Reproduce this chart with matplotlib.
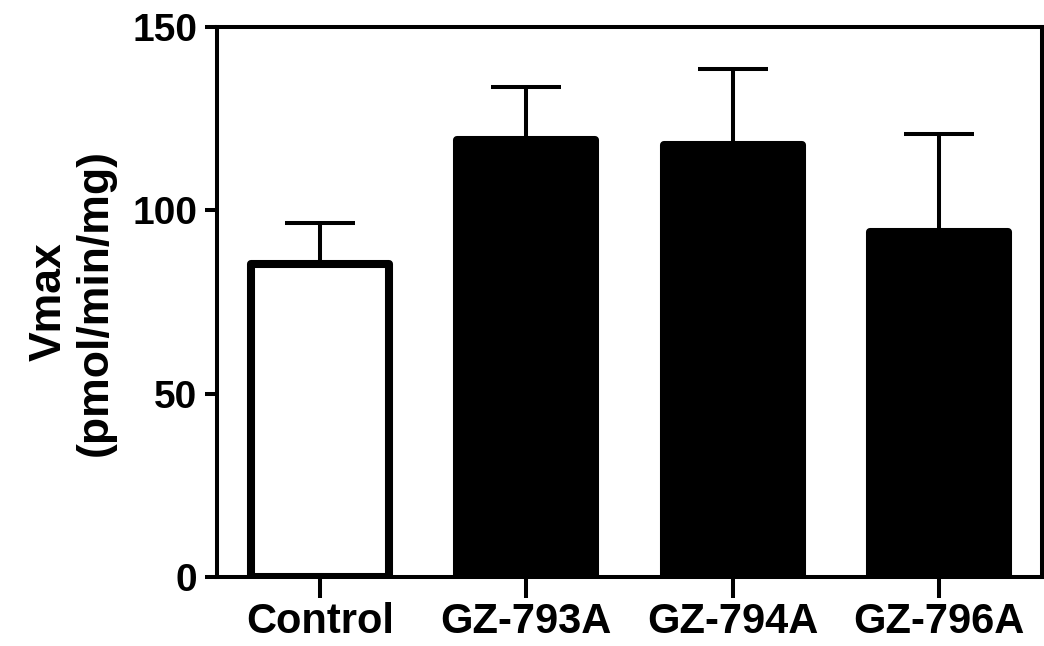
import matplotlib
matplotlib.use("Agg")
import matplotlib.pyplot as plt
import numpy as np

categories = ["Control", "GZ-793A", "GZ-794A", "GZ-796A"]
values = [85.5, 119.2, 117.9, 94.2]
errors = [11.0, 14.4, 20.6, 26.6]
fills = ["white", "black", "black", "black"]
yticks = [0, 50, 100, 150]

plt.rcParams['font.family'] = ['Liberation Sans', 'DejaVu Sans']
plt.rcParams['font.weight'] = 'bold'

fig = plt.figure(figsize=(10.44, 6.46), dpi=100)
ax = fig.add_axes([217/1044, 1-577/646, (1042-217)/1044, (577-27)/646])

x = np.arange(len(categories))
bars = ax.bar(x, values, width=0.67, color=fills, edgecolor="black",
              linewidth=5.8, zorder=3)
for b in bars:
    b.set_joinstyle("round")
ax.errorbar(x, values, yerr=[np.zeros(len(errors)), errors], fmt="none",
            ecolor="black", elinewidth=2.9, capsize=25, capthick=2.9, zorder=2)

ax.set_xlim(-0.5, 3.5)
ax.set_ylim(0, 150)
ax.set_yticks(yticks)
ax.set_xticks(x)
ax.set_xticklabels(categories, fontsize=30, fontweight="bold")
ax.set_yticklabels([str(t) for t in yticks], fontsize=28, fontweight="bold")
for s in ax.spines.values():
    s.set_linewidth(2.9)
ax.tick_params(axis="y", length=9, width=2.9, pad=5)
ax.tick_params(axis="x", length=15, width=2.9, pad=3)
ax.set_ylabel("Vmax\n(pmol/min/mg)", fontsize=32, fontweight="bold",
              linespacing=1.15, labelpad=12)

fig.savefig("out.png", dpi=100)
